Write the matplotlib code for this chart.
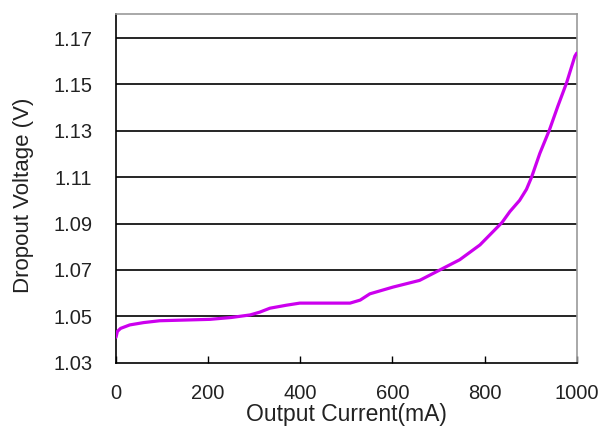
import matplotlib
matplotlib.use("Agg")
import matplotlib.pyplot as plt

plt.rcParams['font.family'] = ['Liberation Sans', 'DejaVu Sans']

current_ma = [0, 3, 10, 30, 60, 95, 150, 204, 250, 291, 312, 334, 370, 399, 450, 508,
              530, 551, 601, 659, 703, 746, 790, 838, 855, 876, 891, 902, 920, 941,
              959, 978, 996, 1000]
dropout_v = [1.0410, 1.0435, 1.0448, 1.0463, 1.0473, 1.0481, 1.0484, 1.0487, 1.0495,
             1.0506, 1.0518, 1.0535, 1.0548, 1.0557, 1.0557, 1.0557, 1.0570, 1.0597,
             1.0626, 1.0655, 1.0700, 1.0744, 1.0808, 1.0905, 1.0952, 1.1000, 1.1048,
             1.1100, 1.1203, 1.1305, 1.1406, 1.1507, 1.1622, 1.1635]
x_ticks = [0, 200, 400, 600, 800, 1000]
y_ticks = [1.03, 1.05, 1.07, 1.09, 1.11, 1.13, 1.15, 1.17]
y_tick_labels = ["1.03", "1.05", "1.07", "1.09", "1.11", "1.13", "1.15", "1.17"]

fig = plt.figure(figsize=(6.03, 4.32), dpi=100)
ax = fig.add_axes([116/603, 1 - 362.7/432, (576.7-116)/603, (362.7-14)/432])

for yv in y_ticks[1:]:
    ax.axhline(yv, color='black', lw=1.2, zorder=1)

ax.plot(current_ma, dropout_v, color='#CC00EE', lw=2.3, zorder=3,
        solid_capstyle='round', solid_joinstyle='round')

ax.set_xlim(0, 1000)
ax.set_ylim(1.03, 1.1804)
ax.set_xticks(x_ticks)
ax.set_yticks(y_ticks)
ax.set_yticklabels(y_tick_labels)
ax.tick_params(axis='x', direction='in', length=5, width=1, pad=15.5, labelsize=14.5,
               colors='black', labelcolor='#222222')
ax.tick_params(axis='y', length=0, pad=17, labelsize=14.5, labelcolor='#222222')

for s in ['left', 'bottom']:
    ax.spines[s].set_color('black')
    ax.spines[s].set_linewidth(1.2)
for s in ['top', 'right']:
    ax.spines[s].set_color('#999999')
    ax.spines[s].set_linewidth(1.2)

ax.set_xlabel("Output Current(mA)", fontsize=16.5, labelpad=0, color='#222222')
ax.set_ylabel("Dropout Voltage (V)", fontsize=16, color='#222222')
ax.yaxis.set_label_coords(-0.178, 0.481)

fig.savefig("out.png", dpi=100)
